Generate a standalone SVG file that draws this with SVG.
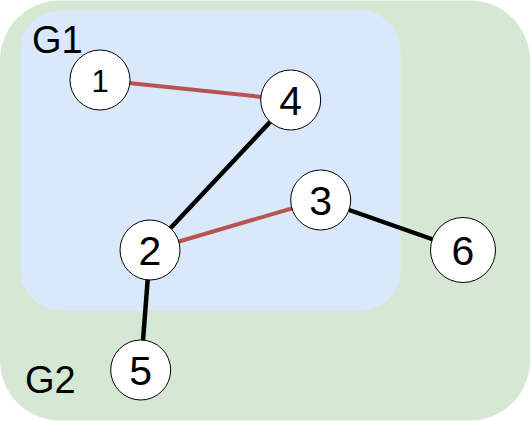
<svg xmlns="http://www.w3.org/2000/svg" width="531" height="421" viewBox="0 0 531 421">
  <style>
    .lbl { font-family: "Liberation Sans", Arial, Helvetica, sans-serif; fill: #000; }
    .grp { font-size: 38px; }
    .node circle { fill: #ffffff; stroke: #000000; stroke-width: 1; }
    .node text { font-family: "Liberation Sans", Arial, Helvetica, sans-serif; font-size: 41px; text-anchor: middle; fill: #000; }
    .red { stroke: #b85450; stroke-width: 4; fill: none; }
    .blk { stroke: #000000; stroke-width: 4.5; fill: none; }
  </style>
  <g id="G2">
    <rect x="0" y="0.5" width="530" height="420" rx="60" ry="60" fill="#d5e8d4"/>
    <text class="lbl grp" x="25" y="393">G2</text>
  </g>
  <g id="G1">
    <rect x="20.5" y="10.5" width="380" height="300" rx="40" ry="40" fill="#dae8fc"/>
    <text class="lbl grp" x="32" y="53">G1</text>
  </g>
  <g id="connectors">
    <line class="red" x1="100" y1="80" x2="290.7" y2="100"/>
    <line class="blk" x1="290.7" y1="100" x2="150" y2="250"/>
    <line class="red" x1="150" y1="250" x2="320.7" y2="200"/>
    <line class="blk" x1="320.7" y1="200" x2="463" y2="250"/>
    <line class="blk" x1="150" y1="250" x2="140.7" y2="370"/>
  </g>
  <g id="n1" class="node">
    <circle cx="100" cy="80" r="30"/>
    <text x="100" y="91.5" style="font-size:31px">1</text>
  </g>
  <g id="n4" class="node">
    <circle cx="290.7" cy="100" r="30"/>
    <text x="290.7" y="114.5">4</text>
  </g>
  <g id="n3" class="node">
    <circle cx="320.7" cy="200" r="30"/>
    <text x="320.7" y="214.5">3</text>
  </g>
  <g id="n2" class="node">
    <circle cx="150" cy="250" r="30"/>
    <text x="150" y="264.5">2</text>
  </g>
  <g id="n6" class="node">
    <circle cx="463" cy="250" r="32.5"/>
    <text x="463" y="264.5">6</text>
  </g>
  <g id="n5" class="node">
    <circle cx="140.7" cy="370" r="30"/>
    <text x="140.7" y="384.5">5</text>
  </g>
</svg>
